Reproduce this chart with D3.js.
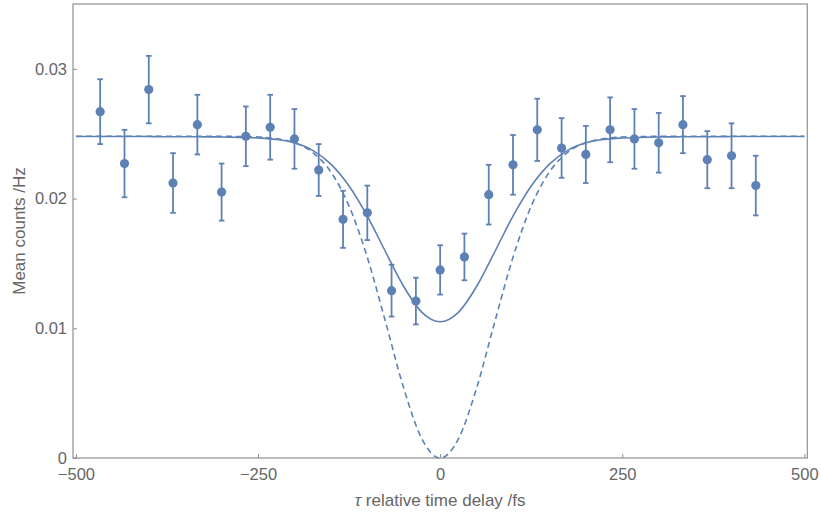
<!DOCTYPE html>
<html>
<head>
<meta charset="utf-8">
<script src="https://cdn.jsdelivr.net/npm/d3@7"></script>
<style>
  html, body { margin: 0; padding: 0; background: #fff; }
  svg text { font-family: "Liberation Sans", Arial, sans-serif; fill: #666; }
</style>
</head>
<body>
<svg id="chart" width="821" height="514"></svg>
<script>
// measured points: delay (fs), mean counts (Hz), error bar half-height
const delays = [-466.7, -433.3, -400, -366.7, -333.3, -300, -266.7, -233.3, -200, -166.7,
  -133.3, -100, -66.7, -33.3, 0, 33.3, 66.7, 100, 133.3, 166.7,
  200, 233.3, 266.7, 300, 333.3, 366.7, 400, 433.3];
const counts = [0.0267, 0.0227, 0.0284, 0.0212, 0.0257, 0.0205, 0.0248, 0.0255, 0.0246, 0.0222,
  0.0184, 0.0189, 0.0129, 0.0121, 0.0145, 0.0155, 0.0203, 0.0226, 0.0253, 0.0239,
  0.0234, 0.0253, 0.0246, 0.0243, 0.0257, 0.0230, 0.0233, 0.0210];
const errors = [0.0025, 0.0026, 0.0026, 0.0023, 0.0023, 0.0022, 0.0023, 0.0025, 0.0023, 0.0020,
  0.0022, 0.0021, 0.0020, 0.0018, 0.0019, 0.0018, 0.0023, 0.0023, 0.0024, 0.0023,
  0.0022, 0.0025, 0.0023, 0.0023, 0.0022, 0.0022, 0.0025, 0.0023];

// fitted curves, every 25 fs
const fitDelays = [-500, -475, -450, -425, -400, -375, -350, -325, -300, -275,
  -250, -225, -200, -175, -150, -125, -100, -75, -50, -25,
  0, 25, 50, 75, 100, 125, 150, 175, 200, 225,
  250, 275, 300, 325, 350, 375, 400, 425, 450, 475, 500];
const fitSolid = [0.02479, 0.02479, 0.02479, 0.02478, 0.02478, 0.02477, 0.02477, 0.02476, 0.02475, 0.02472,
  0.02467, 0.02456, 0.02430, 0.02372, 0.02266, 0.02097, 0.01865, 0.01590, 0.01322, 0.01123,
  0.01050, 0.01123, 0.01322, 0.01590, 0.01865, 0.02097, 0.02266, 0.02372, 0.02430, 0.02456,
  0.02467, 0.02472, 0.02475, 0.02476, 0.02477, 0.02477, 0.02478, 0.02478, 0.02479, 0.02479, 0.02479];
const fitDashed = [0.02480, 0.02480, 0.02480, 0.02480, 0.02480, 0.02480, 0.02480, 0.02480, 0.02480, 0.02478,
  0.02475, 0.02462, 0.02430, 0.02356, 0.02205, 0.01942, 0.01547, 0.01050, 0.00538, 0.00147,
  0, 0.00147, 0.00538, 0.01050, 0.01547, 0.01942, 0.02205, 0.02356, 0.02430, 0.02462,
  0.02475, 0.02478, 0.02480, 0.02480, 0.02480, 0.02480, 0.02480, 0.02480, 0.02480, 0.02480, 0.02480];

const xTicks = [-500, -250, 0, 250, 500];
const yTicks = [0, 0.01, 0.02, 0.03];

const COLOR = "#5e81b5";
const FRAME = "#8f8f8f";

const svg = d3.select("#chart");
const plotLeft = 73, plotRight = 807.3, plotTop = 4, plotBottom = 458;

const x = d3.scaleLinear().domain([-504, 504]).range([plotLeft, plotRight]);
const y = d3.scaleLinear().domain([0, 0.035]).range([plotBottom, plotTop]);

// ==== curves ====
const line = d3.line()
  .x(d => x(d[0]))
  .y(d => y(d[1]))
  .curve(d3.curveMonotoneX);

svg.append("path")
  .datum(fitDelays.map((t, i) => [t, fitDashed[i]]))
  .attr("d", line)
  .attr("fill", "none")
  .attr("stroke", COLOR)
  .attr("stroke-width", 1.6)
  .attr("stroke-dasharray", "6,4");

svg.append("path")
  .datum(fitDelays.map((t, i) => [t, fitSolid[i]]))
  .attr("d", line)
  .attr("fill", "none")
  .attr("stroke", COLOR)
  .attr("stroke-width", 1.6);

// ==== points + error bars ====
const pts = delays.map((t, i) => ({ t, v: counts[i], e: errors[i] }));

const bars = svg.append("g")
  .attr("stroke", COLOR)
  .attr("stroke-width", 1.8)
  .selectAll("g")
  .data(pts)
  .join("g");

bars.append("line")
  .attr("x1", d => x(d.t)).attr("x2", d => x(d.t))
  .attr("y1", d => y(d.v - d.e)).attr("y2", d => y(d.v + d.e));
bars.append("line")
  .attr("x1", d => x(d.t) - 2.8).attr("x2", d => x(d.t) + 2.8)
  .attr("y1", d => y(d.v + d.e)).attr("y2", d => y(d.v + d.e));
bars.append("line")
  .attr("x1", d => x(d.t) - 2.8).attr("x2", d => x(d.t) + 2.8)
  .attr("y1", d => y(d.v - d.e)).attr("y2", d => y(d.v - d.e));

svg.append("g")
  .selectAll("circle")
  .data(pts)
  .join("circle")
  .attr("cx", d => x(d.t))
  .attr("cy", d => y(d.v))
  .attr("r", 4.6)
  .attr("fill", COLOR);

// ==== frame ====
svg.append("rect")
  .attr("x", plotLeft).attr("y", plotTop)
  .attr("width", plotRight - plotLeft).attr("height", plotBottom - plotTop)
  .attr("fill", "none")
  .attr("stroke", FRAME)
  .attr("stroke-width", 1.2);

// ticks point inward
const xAxis = d3.axisBottom(x)
  .tickValues(xTicks)
  .tickSize(-4)
  .tickPadding(10)
  .tickFormat(d3.format("d"));

const gx = svg.append("g")
  .attr("transform", `translate(0,${plotBottom})`)
  .call(xAxis);

const yAxis = d3.axisLeft(y)
  .tickValues(yTicks)
  .tickSize(-4)
  .tickPadding(6)
  .tickFormat(d => d === 0 ? "0" : d3.format(".2f")(d));

const gy = svg.append("g")
  .attr("transform", `translate(${plotLeft},0)`)
  .call(yAxis);

[gx, gy].forEach(g => {
  g.select(".domain").remove();
  g.selectAll(".tick line").attr("stroke", FRAME).attr("stroke-width", 1);
  g.selectAll(".tick text")
    .attr("fill", "#666")
    .style("font-size", "16.5px")
    .style("font-family", "'Liberation Sans', Arial, sans-serif");
});

// ==== axis titles ====
const xTitle = svg.append("text")
  .attr("x", x(0))
  .attr("y", 506)
  .attr("text-anchor", "middle")
  .style("font-size", "17px");
xTitle.append("tspan").style("font-style", "italic").text("τ");
xTitle.append("tspan").text(" relative time delay /fs");

svg.append("text")
  .attr("transform", `translate(25,${(plotTop + plotBottom) / 2}) rotate(-90)`)
  .attr("text-anchor", "middle")
  .style("font-size", "17px")
  .text("Mean counts /Hz");
</script>
</body>
</html>
